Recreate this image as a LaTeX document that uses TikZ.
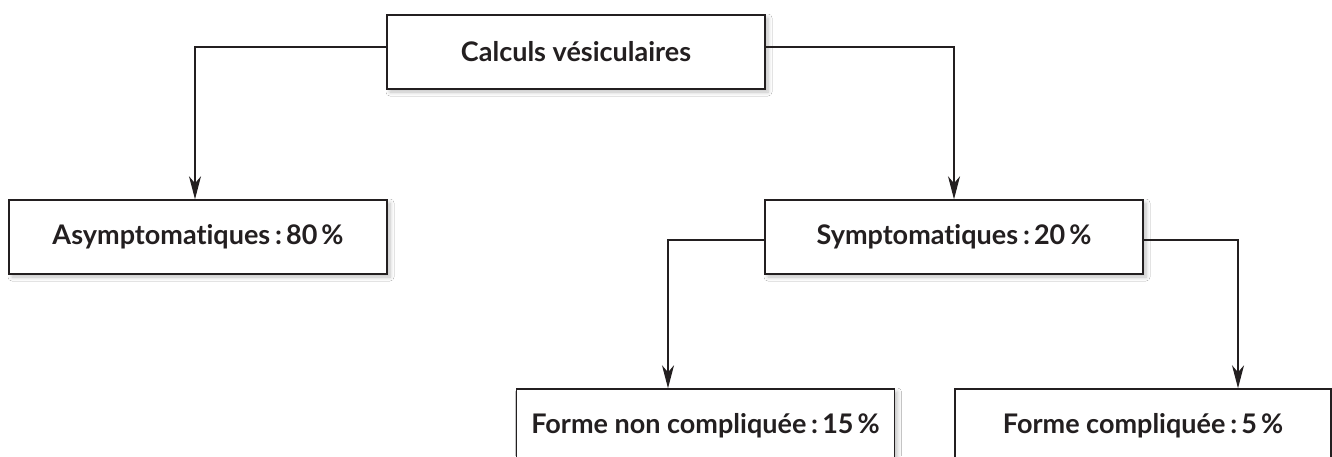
\documentclass[tikz,border=0pt]{standalone}
\usepackage{fontspec}
\setmainfont{Lato}[Ligatures={NoCommon}]
\usetikzlibrary{arrows.meta,shadows.blur}
\definecolor{ink}{HTML}{231F20}
\tikzset{
  box/.style={draw=ink, line width=1.5pt, fill=white, minimum width=378pt, minimum height=74pt,
    inner sep=0pt, font=\fontsize{27}{31}\selectfont\bfseries, text=ink,
    blur shadow={shadow xshift=3pt, shadow yshift=-3pt, shadow blur steps=6, shadow opacity=25, shadow blur radius=4pt}},
  conn/.style={draw=ink, line width=1.2pt, -{Stealth[length=23pt,width=12pt,inset=7pt]}}
}
\begin{document}
\begin{tikzpicture}[x=1pt,y=-1pt]
\useasboundingbox (0,0) rectangle (1332,456);
\clip (0,0) rectangle (1332,456);
\fill[white] (0,0) rectangle (1332,456);
\node[box] (top) at (576,52) {Calculs vésiculaires};
\node[box] (asym) at (198,237) {Asymptomatiques\hspace{0.18em}:\hspace{0.15em}80\hspace{0.15em}\%};
\node[box] (symp) at (954,237) {Symptomatiques\hspace{0.18em}:\hspace{0.15em}20\hspace{0.15em}\%};
\node[box] (fnc) at (705.5,426) {Forme non compliquée\hspace{0.18em}:\hspace{0.15em}15\hspace{0.15em}\%};
\node[box, minimum width=376pt] (fc) at (1143,426) {Forme compliquée\hspace{0.18em}:\hspace{0.15em}5\hspace{0.15em}\%};
\draw[conn] ([yshift=5pt]top.west) -| ([xshift=-3pt]asym.north);
\draw[conn] ([yshift=5pt]top.east) -| (symp.north);
\draw[conn] ([yshift=-3pt]symp.west) -| ([xshift=-37.5pt]fnc.north);
\draw[conn] ([yshift=-3pt]symp.east) -| ([xshift=95pt]fc.north);
\end{tikzpicture}
\end{document}
